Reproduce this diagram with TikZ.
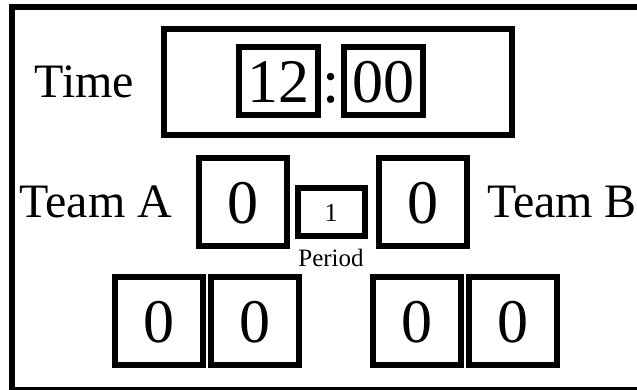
\documentclass[tikz,border=0pt]{standalone}
\usepackage{fontspec}
\setmainfont{Liberation Serif}
\usetikzlibrary{positioning}

\begin{document}
\begin{tikzpicture}[
    x=1pt, y=-1pt,
    thickbox/.style={draw, line width=6pt, outer sep=0pt, inner sep=0pt},
    panel/.style={thickbox, minimum width=348pt, minimum height=106pt},
    clockdigit/.style={font=\fontsize{62}{62}\selectfont, text height=42pt, text depth=0pt, inner sep=0pt, outer sep=0pt},
    digitbox/.style={thickbox, clockdigit, minimum width=79pt, minimum height=68pt},
    scorebox/.style={thickbox, clockdigit, minimum width=88pt, minimum height=88pt},
    periodbox/.style={thickbox, font=\fontsize{26}{26}\selectfont, text height=18pt, text depth=0pt, minimum width=67pt, minimum height=48pt},
    caption/.style={font=\fontsize{48}{48}\selectfont, inner sep=0pt, outer sep=0pt},
    smallcaption/.style={font=\fontsize{25}{25}\selectfont, inner sep=0pt, outer sep=0pt}
  ]
    \clip (0,0) rectangle (637,389);
    \draw[line width=6pt] (12,7) rectangle (645,390);

    \node[panel] (clock) at (338,82) {};
    \node[caption, left=30pt of clock] (timelbl) {Time};
    \node[digitbox] (hrs) at (278,81) {12};
    \node[digitbox, right=26.5pt of hrs] (mins) {00};
    \path (hrs) -- node[clockdigit] (colon) {:} (mins);

    \node[scorebox] (scoreA) at (243,202) {0};
    \node[scorebox, right=92pt of scoreA] (scoreB) {0};
    \node[periodbox] (period) at (331,212) {1};
    \node[smallcaption, below=13pt of period] (periodlbl) {Period};
    \node[caption, left=27pt of scoreA] (teamA) {Team A};
    \node[caption, right=20pt of scoreB] (teamB) {Team B};

    \node[scorebox] (foulA2) at (255,321) {0};
    \node[scorebox, left=8.5pt of foulA2] (foulA1) {0};
    \node[scorebox, right=74pt of foulA2] (foulB1) {0};
    \node[scorebox, right=8pt of foulB1] (foulB2) {0};
  \end{tikzpicture}
\end{document}
